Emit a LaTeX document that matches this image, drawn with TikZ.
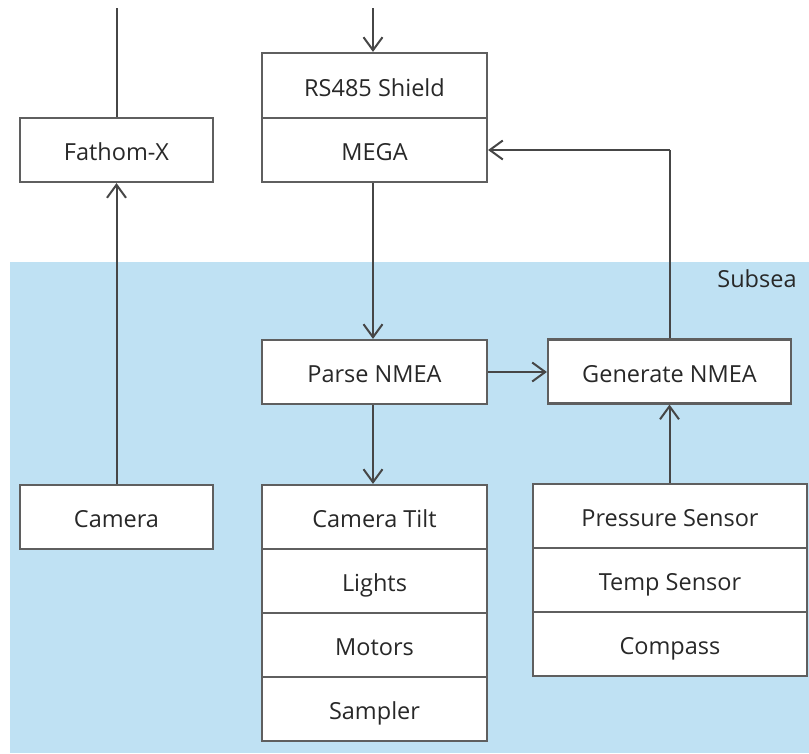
\documentclass[tikz,border=0pt]{standalone}
\usepackage{fontspec}
\setmainfont{Open Sans}
\usetikzlibrary{arrows.meta}
\definecolor{seablue}{RGB}{191,225,243}
\definecolor{boxline}{RGB}{95,95,95}
\definecolor{wire}{RGB}{70,70,70}
\definecolor{ink}{RGB}{40,40,40}
\tikzset{
  label font/.style={text=ink, font=\fontsize{23.5}{28}\selectfont},
  block/.style={draw=boxline, line width=2.2pt, fill=white, rectangle,
    inner sep=0pt, label font, text height=21pt, text depth=0pt},
  link/.style={draw=wire, line width=2pt,
    -{Straight Barb[length=13pt,width=19pt,line width=2pt]}},
  plain/.style={draw=wire, line width=2pt},
}
\begin{document}
\begin{tikzpicture}[x=1pt,y=-1pt]
\useasboundingbox (0,0) rectangle (809,753);
% subsea region
\fill[seablue] (10,262) rectangle (809,753);
\node[label font] (subsea) at (757,279) {Subsea};

% surface side
\node[block, minimum width=193pt, minimum height=64pt] (fathom) at (116.5,150) {Fathom-X};
\node[block, minimum width=225pt, minimum height=65pt] (rs485) at (374.5,85.5) {RS485 Shield};
\node[block, minimum width=225pt, minimum height=64pt] (mega) at (374.5,150) {MEGA};

% subsea side
\node[block, minimum width=225pt, minimum height=64pt] (parse) at (374.5,372) {Parse NMEA};
\node[block, minimum width=243pt, minimum height=64pt] (gen) at (669.5,371.5) {Generate NMEA};
\node[block, minimum width=193pt, minimum height=64pt] (camera) at (116.5,517) {Camera};

\node[block, minimum width=225pt, minimum height=64pt] (tilt) at (374.5,517) {Camera Tilt};
\node[block, minimum width=225pt, minimum height=64pt] (lights) at (374.5,581) {Lights};
\node[block, minimum width=225pt, minimum height=64pt] (motors) at (374.5,645) {Motors};
\node[block, minimum width=225pt, minimum height=64pt] (sampler) at (374.5,709) {Sampler};

\node[block, minimum width=274pt, minimum height=64pt] (pressure) at (670,516) {Pressure Sensor};
\node[block, minimum width=274pt, minimum height=64pt] (temp) at (670,580) {Temp Sensor};
\node[block, minimum width=274pt, minimum height=64pt] (compass) at (670,644) {Compass};

% tether ends
\coordinate (tetherA) at (116.5,8);
\coordinate (tetherB) at (373,8);
\coordinate (corner) at (669.5,150);

% connectors
\draw[plain] (tetherA) -- (fathom.north);
\draw[link] (tetherB) -- (rs485.north -| tetherB);
\draw[link] (camera.north) -- (fathom.south);
\draw[link] (mega.south -| tetherB) -- (parse.north -| tetherB);
\draw[link] (parse.east) -- (gen.west |- parse.east);
\draw[link] (parse.south -| tetherB) -- (tilt.north -| tetherB);
\draw[link] (pressure.north -| gen.north) -- (gen.south);
\draw[plain] (gen.north) -- (corner);
\draw[link] (corner) -- (mega.east |- corner);
\end{tikzpicture}
\end{document}
